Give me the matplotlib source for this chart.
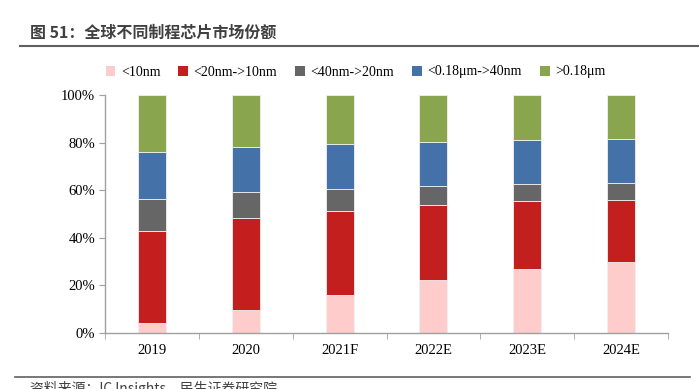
import matplotlib
matplotlib.use("Agg")
import matplotlib.pyplot as plt
import numpy as np
from matplotlib.lines import Line2D
from matplotlib.patches import Patch

categories = ["2019", "2020", "2021F", "2022E", "2023E", "2024E"]
series_names = ["<10nm", "<20nm->10nm", "<40nm->20nm", "<0.18\u03bcm->40nm", ">0.18\u03bcm"]
s_10 = [4.1, 9.7, 15.8, 22.3, 26.8, 29.7]
s_20_10 = [38.9, 38.5, 35.6, 31.5, 28.5, 26.3]
s_40_20 = [13.4, 10.9, 9.2, 7.8, 7.3, 6.9]
s_018_40 = [19.8, 18.9, 19.0, 18.5, 18.4, 18.5]
s_018 = [23.8, 22.0, 20.4, 19.9, 19.0, 18.6]
colors = ["#FFCCCC", "#C41F1F", "#666666", "#4471A8", "#89A54E"]

W, H = 699, 389
fig = plt.figure(figsize=(W / 100, H / 100), dpi=100)
ax = fig.add_axes([105 / W, 1 - 333 / H, (668 - 105) / W, (333 - 95) / H])

x = np.arange(len(categories))
bottom = np.zeros(len(categories))
for vals, c, name in zip([s_10, s_20_10, s_40_20, s_018_40, s_018], colors, series_names):
    vals = np.array(vals)
    ax.bar(x, vals, 0.3, bottom=bottom, color=c, edgecolor="#f0f0f0", linewidth=0.6, label=name)
    bottom += vals

ax.set_xlim(-0.5, len(categories) - 0.5)
ax.set_ylim(0, 100)
ax.set_yticks(np.arange(0, 101, 20))
ax.set_yticklabels([f"{v}%" for v in range(0, 101, 20)])
ax.set_xticks(x)
ax.set_xticklabels(categories)
ax.set_xticks(np.arange(-0.5, len(categories), 1), minor=True)
ax.tick_params(axis="x", which="major", length=0, pad=8)
ax.tick_params(axis="x", which="minor", length=4, color="#A0A0A0", direction="out")
ax.tick_params(axis="y", length=4, color="#A0A0A0", direction="out", pad=3)
for lab in ax.get_xticklabels() + ax.get_yticklabels():
    lab.set_fontfamily("Liberation Serif")
    lab.set_fontsize(10.5)
    lab.set_color("#000000")
for s in ["top", "right"]:
    ax.spines[s].set_visible(False)
for s in ["left", "bottom"]:
    ax.spines[s].set_color("#A0A0A0")
    ax.spines[s].set_linewidth(1.0)

handles = [Patch(facecolor=c, edgecolor="none") for c in colors]
leg = fig.legend(handles, series_names, loc="center left", bbox_to_anchor=(93 / W, 1 - 72 / H),
                 ncol=5, frameon=False, handlelength=0.7, handleheight=0.7, handletextpad=0.4,
                 columnspacing=1.3, prop={"family": "Liberation Serif", "size": 10})

fig.text(30 / W, 1 - 33 / H, "图 51：全球不同制程芯片市场份额", fontsize=11.5, fontweight="bold",
         family=["Noto Sans CJK SC", "DejaVu Sans"], color="#404040", va="center", ha="left")
fig.add_artist(Line2D([20 / W, 1.0], [1 - 46 / H, 1 - 46 / H], color="#606060", linewidth=1.5,
                      transform=fig.transFigure))
fig.add_artist(Line2D([15 / W, 690 / W], [1 - 377 / H, 1 - 377 / H], color="#606060", linewidth=1.2,
                      transform=fig.transFigure))
fig.text(30 / W, 1 - 381 / H, "资料来源：IC Insights，民生证券研究院", fontsize=10,
         family=["Noto Sans CJK SC", "DejaVu Sans"], color="#404040", va="top", ha="left")

fig.savefig("out.png", dpi=100)
